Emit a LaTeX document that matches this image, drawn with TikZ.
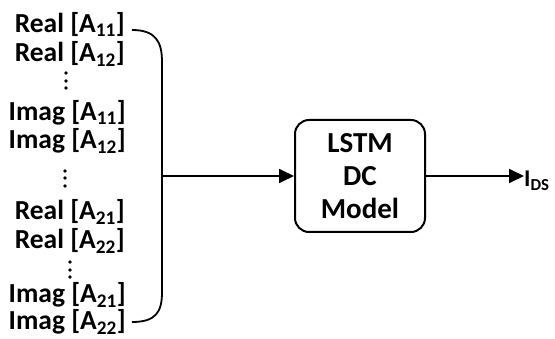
\documentclass[tikz,border=0pt]{standalone}
\usepackage{fontspec}
\setmainfont{Carlito}
\usetikzlibrary{arrows.meta}
\tikzset{
  lbl/.style={anchor=base east, inner sep=0pt, font=\fontsize{27.5}{30}\selectfont\bfseries},
  conn/.style={line width=1.8pt},
  arr/.style={conn, -{Triangle[length=15pt,width=14pt]}},
  modelbox/.style={draw, line width=2pt, rounded corners=14pt, minimum width=130pt, minimum height=112pt, align=center, font=\fontsize{29}{33}\selectfont\bfseries},
  dotmark/.style={fill=black}
}
\newcommand{\sbs}[1]{\textsubscript{#1}}
\begin{document}
\begin{tikzpicture}[x=1pt,y=-1pt]
\useasboundingbox (0,0) rectangle (555,339);
\node[lbl] (r11) at (125,33) {Real [A\sbs{11}]};
\node[lbl] (r12) at (125,62) {Real [A\sbs{12}]};
\node[lbl] (i11) at (126,121) {Imag [A\sbs{11}]};
\node[lbl] (i12) at (126,149) {Imag [A\sbs{12}]};
\node[lbl] (r21) at (125,220) {Real [A\sbs{21}]};
\node[lbl] (r22) at (125,249) {Real [A\sbs{22}]};
\node[lbl] (i21) at (126,303) {Imag [A\sbs{21}]};
\node[lbl] (i22) at (126,330) {Imag [A\sbs{22}]};
\foreach \x/\y in {66/73,66/81,66/88, 65/171,65/178,65/186, 70/262,70/270,70/277} {
  \fill[dotmark] (\x,\y) circle (1.8pt);
}
\coordinate (bt) at (132,30);
\coordinate (bb) at (132,322);
\coordinate (bm) at (162,176);
\draw[conn] (bt) .. controls (156,30) and (162,42) .. (162,62) -- (162,292) .. controls (162,312) and (156,322) .. (bb);
\node[modelbox] (m) at (360,176) {LSTM\\DC\\Model};
\draw[arr] (bm) -- (m.west);
\node[anchor=base west, inner sep=0pt, font=\fontsize{24}{28}\selectfont\bfseries] (ids) at (524,187) {I\sbs{DS}};
\draw[arr] (m.east) -- (ids.west |- m.east);
\end{tikzpicture}
\end{document}
